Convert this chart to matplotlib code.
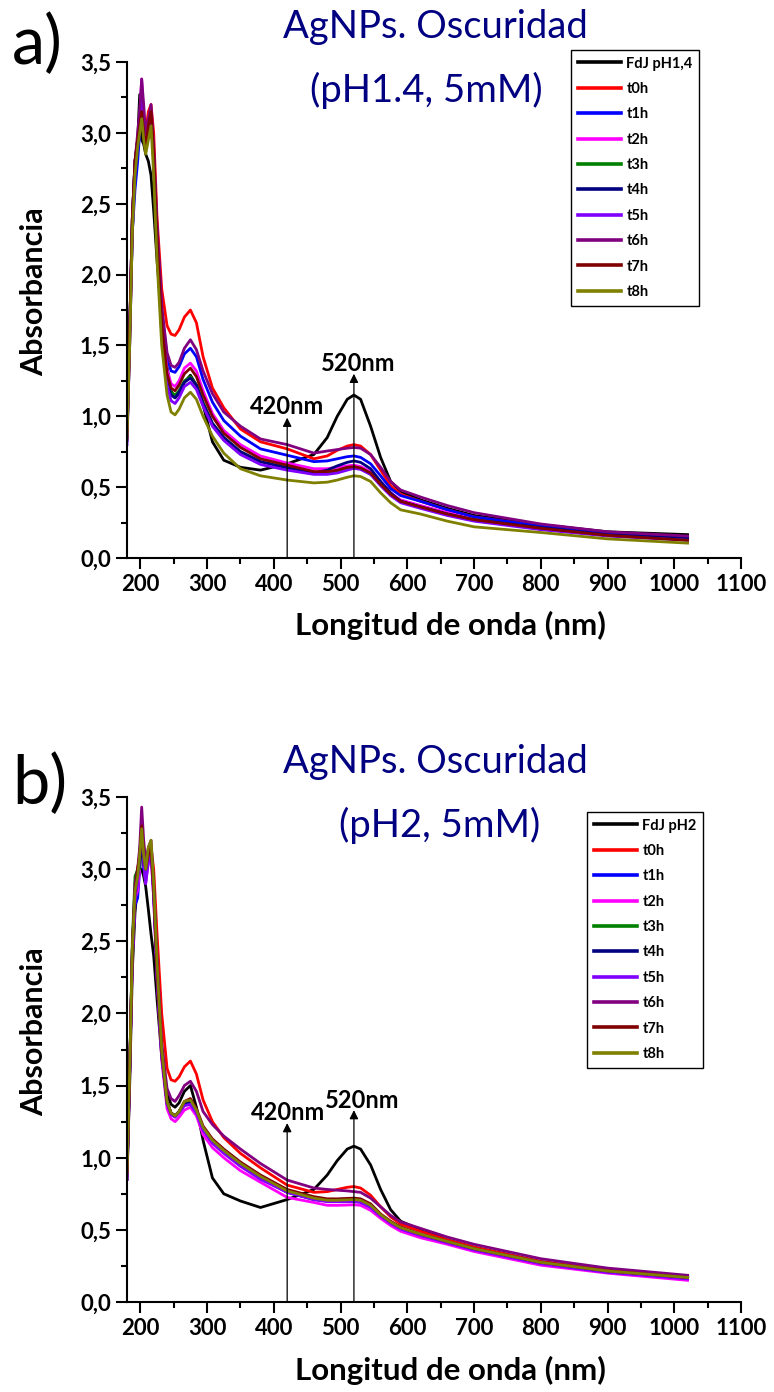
import matplotlib

matplotlib.use("Agg")
import matplotlib.pyplot as plt
from matplotlib.ticker import FuncFormatter, MultipleLocator

plt.rcParams["font.family"] = ["Lato", "DejaVu Sans"]

wavelength = [180, 184, 188, 192, 196, 199, 202, 205, 208, 212, 216, 220, 225, 232, 240,
              246, 252, 258, 266, 275, 284, 294, 308, 325, 350, 380, 420,
              460, 480, 495, 510, 520, 530, 545, 560, 575, 590, 620,
              660, 700, 800, 900, 1020]

labels_a = ["FdJ pH1,4", "t0h", "t1h", "t2h", "t3h", "t4h", "t5h", "t6h", "t7h", "t8h"]
labels_b = ["FdJ pH2", "t0h", "t1h", "t2h", "t3h", "t4h", "t5h", "t6h", "t7h", "t8h"]
colors = ["#000000", "#ff0000", "#0000ff", "#ff00ff", "#008000", "#000080",
          "#8000ff", "#800080", "#800000", "#808000"]

# panel a) pH 1.4
fdj_a = [0.83, 1.50, 2.30, 2.75, 2.95, 3.27, 2.95, 2.92, 2.85, 2.80, 2.70, 2.45, 2.10, 1.70, 1.35,
         1.18, 1.13, 1.16, 1.24, 1.29, 1.22, 1.08, 0.82, 0.69, 0.64, 0.62, 0.665,
         0.73, 0.85, 1.00, 1.12, 1.15, 1.12, 0.93, 0.71, 0.54, 0.47, 0.41,
         0.35, 0.30, 0.235, 0.185, 0.165]
t0_a = [0.85, 1.55, 2.35, 2.75, 2.90, 3.05, 3.20, 3.10, 3.00, 3.15, 3.20, 3.00, 2.40, 1.90, 1.64,
        1.58, 1.57, 1.61, 1.70, 1.75, 1.66, 1.42, 1.20, 1.06, 0.91, 0.82, 0.77,
        0.70, 0.72, 0.76, 0.79, 0.80, 0.79, 0.73, 0.62, 0.51, 0.45, 0.40,
        0.34, 0.29, 0.225, 0.17, 0.14]
t1_a = [1.20, 1.60, 2.30, 2.60, 2.80, 3.00, 3.15, 3.00, 2.95, 3.05, 3.10, 2.85, 2.30, 1.75, 1.42,
        1.32, 1.31, 1.35, 1.44, 1.48, 1.42, 1.26, 1.10, 0.97, 0.86, 0.77, 0.725,
        0.68, 0.685, 0.70, 0.715, 0.72, 0.71, 0.665, 0.58, 0.49, 0.44, 0.40,
        0.34, 0.29, 0.225, 0.175, 0.145]
t2_a = [0.90, 1.60, 2.40, 2.80, 2.95, 3.10, 3.38, 3.10, 2.90, 3.00, 3.10, 2.80, 2.25, 1.68, 1.33,
        1.23, 1.21, 1.25, 1.34, 1.375, 1.32, 1.18, 1.02, 0.90, 0.80, 0.72, 0.67,
        0.63, 0.63, 0.64, 0.65, 0.655, 0.645, 0.61, 0.54, 0.46, 0.41, 0.37,
        0.32, 0.27, 0.21, 0.16, 0.13]
t3_a = [0.85, 1.60, 2.40, 2.80, 2.95, 3.05, 3.20, 3.00, 2.90, 3.05, 3.10, 2.80, 2.20, 1.62, 1.27,
        1.17, 1.15, 1.18, 1.25, 1.28, 1.22, 1.10, 0.95, 0.85, 0.75, 0.68, 0.64,
        0.60, 0.60, 0.61, 0.63, 0.64, 0.63, 0.59, 0.52, 0.45, 0.40, 0.36,
        0.31, 0.27, 0.21, 0.16, 0.13]
t4_a = [0.90, 1.60, 2.40, 2.80, 2.95, 3.05, 3.15, 3.00, 2.90, 3.00, 3.10, 2.80, 2.20, 1.60, 1.25,
        1.15, 1.13, 1.17, 1.24, 1.27, 1.22, 1.09, 0.95, 0.85, 0.75, 0.68, 0.635,
        0.60, 0.62, 0.65, 0.675, 0.685, 0.675, 0.63, 0.54, 0.46, 0.40, 0.36,
        0.31, 0.27, 0.215, 0.165, 0.14]
t5_a = [0.80, 1.50, 2.30, 2.75, 2.95, 3.05, 3.30, 3.05, 2.90, 3.05, 3.10, 2.80, 2.20, 1.58, 1.22,
        1.11, 1.09, 1.13, 1.21, 1.24, 1.19, 1.07, 0.93, 0.83, 0.73, 0.66, 0.62,
        0.59, 0.59, 0.60, 0.62, 0.633, 0.625, 0.59, 0.51, 0.44, 0.39, 0.35,
        0.30, 0.26, 0.20, 0.155, 0.125]
t6_a = [0.85, 1.60, 2.40, 2.80, 3.00, 3.15, 3.38, 3.20, 3.00, 3.10, 3.20, 2.90, 2.35, 1.78, 1.45,
        1.36, 1.345, 1.38, 1.48, 1.54, 1.47, 1.32, 1.16, 1.03, 0.93, 0.84, 0.80,
        0.74, 0.755, 0.765, 0.775, 0.78, 0.775, 0.73, 0.64, 0.54, 0.48, 0.43,
        0.37, 0.32, 0.24, 0.185, 0.155]
t7_a = [0.90, 1.60, 2.40, 2.80, 2.95, 3.05, 3.15, 3.00, 2.90, 3.05, 3.15, 2.85, 2.25, 1.65, 1.30,
        1.20, 1.18, 1.22, 1.30, 1.34, 1.28, 1.15, 1.00, 0.88, 0.78, 0.70, 0.655,
        0.61, 0.61, 0.62, 0.64, 0.645, 0.635, 0.60, 0.52, 0.45, 0.40, 0.36,
        0.31, 0.27, 0.21, 0.16, 0.125]
t8_a = [0.85, 1.50, 2.30, 2.70, 2.90, 3.00, 3.10, 2.95, 2.85, 2.95, 3.05, 2.70, 2.10, 1.50, 1.15,
        1.03, 1.01, 1.05, 1.13, 1.17, 1.12, 1.00, 0.86, 0.74, 0.63, 0.58, 0.55,
        0.53, 0.535, 0.55, 0.57, 0.58, 0.575, 0.54, 0.46, 0.39, 0.34, 0.31,
        0.26, 0.22, 0.18, 0.135, 0.105]

# panel b) pH 2
fdj_b = [0.85, 1.50, 2.30, 2.70, 2.90, 3.00, 3.00, 2.95, 2.88, 2.72, 2.55, 2.40, 2.10, 1.70, 1.45,
         1.37, 1.35, 1.38, 1.46, 1.50, 1.35, 1.12, 0.86, 0.75, 0.70, 0.655, 0.71,
         0.78, 0.88, 0.98, 1.06, 1.08, 1.06, 0.95, 0.78, 0.64, 0.56, 0.50,
         0.43, 0.38, 0.28, 0.22, 0.18]
t0_b = [0.90, 1.60, 2.40, 2.80, 3.00, 3.10, 3.20, 3.10, 3.00, 3.10, 3.15, 3.00, 2.55, 2.00, 1.62,
        1.54, 1.53, 1.56, 1.63, 1.67, 1.58, 1.40, 1.25, 1.14, 1.03, 0.93, 0.81,
        0.76, 0.765, 0.78, 0.795, 0.80, 0.79, 0.74, 0.66, 0.59, 0.54, 0.49,
        0.43, 0.38, 0.28, 0.22, 0.17]
t1_b = [0.90, 1.60, 2.40, 2.75, 2.80, 3.00, 3.20, 3.00, 2.95, 3.05, 3.15, 2.85, 2.30, 1.72, 1.38,
        1.31, 1.29, 1.32, 1.37, 1.38, 1.32, 1.20, 1.11, 1.04, 0.95, 0.86, 0.765,
        0.715, 0.70, 0.70, 0.70, 0.70, 0.695, 0.66, 0.60, 0.55, 0.51, 0.465,
        0.415, 0.365, 0.27, 0.21, 0.165]
t2_b = [0.90, 1.60, 2.40, 2.80, 2.85, 3.00, 3.25, 3.05, 2.90, 3.05, 3.10, 2.80, 2.25, 1.68, 1.34,
        1.27, 1.25, 1.28, 1.33, 1.35, 1.29, 1.16, 1.07, 1.00, 0.91, 0.83, 0.725,
        0.69, 0.67, 0.67, 0.672, 0.674, 0.67, 0.635, 0.58, 0.53, 0.49, 0.445,
        0.40, 0.35, 0.255, 0.20, 0.15]
t3_b = [0.90, 1.60, 2.50, 2.95, 3.00, 3.00, 3.20, 3.05, 2.95, 3.10, 3.15, 2.85, 2.30, 1.72, 1.38,
        1.31, 1.29, 1.32, 1.38, 1.39, 1.32, 1.20, 1.11, 1.04, 0.95, 0.86, 0.765,
        0.715, 0.70, 0.70, 0.70, 0.70, 0.695, 0.66, 0.60, 0.55, 0.51, 0.465,
        0.415, 0.365, 0.27, 0.21, 0.165]
t4_b = [0.90, 1.60, 2.45, 2.85, 2.95, 3.05, 3.20, 3.05, 2.95, 3.10, 3.15, 2.85, 2.30, 1.72, 1.38,
        1.31, 1.29, 1.32, 1.38, 1.39, 1.32, 1.20, 1.11, 1.04, 0.95, 0.86, 0.76,
        0.71, 0.70, 0.70, 0.70, 0.70, 0.695, 0.66, 0.60, 0.55, 0.51, 0.465,
        0.415, 0.365, 0.27, 0.21, 0.165]
t5_b = [0.85, 1.55, 2.40, 2.80, 2.90, 3.10, 3.30, 3.05, 2.90, 3.05, 3.10, 2.80, 2.25, 1.70, 1.37,
        1.30, 1.28, 1.31, 1.36, 1.37, 1.31, 1.19, 1.10, 1.03, 0.94, 0.85, 0.76,
        0.71, 0.695, 0.695, 0.695, 0.695, 0.69, 0.655, 0.595, 0.545, 0.505, 0.46,
        0.41, 0.36, 0.265, 0.205, 0.16]
t6_b = [0.85, 1.60, 2.45, 2.90, 3.00, 3.15, 3.43, 3.20, 3.05, 3.15, 3.20, 2.90, 2.40, 1.80, 1.48,
        1.41, 1.39, 1.43, 1.50, 1.53, 1.46, 1.32, 1.23, 1.15, 1.06, 0.96, 0.845,
        0.79, 0.78, 0.775, 0.77, 0.765, 0.76, 0.72, 0.66, 0.60, 0.555, 0.51,
        0.45, 0.40, 0.30, 0.235, 0.185]
t7_b = [0.90, 1.60, 2.45, 2.85, 3.00, 3.10, 3.30, 3.10, 3.00, 3.10, 3.15, 2.85, 2.30, 1.74, 1.39,
        1.31, 1.29, 1.32, 1.39, 1.41, 1.34, 1.22, 1.13, 1.06, 0.97, 0.88, 0.78,
        0.73, 0.715, 0.715, 0.718, 0.72, 0.715, 0.68, 0.61, 0.56, 0.52, 0.47,
        0.42, 0.37, 0.275, 0.215, 0.17]
t8_b = [0.90, 1.60, 2.45, 2.85, 2.95, 3.10, 3.28, 3.10, 3.00, 3.15, 3.20, 2.90, 2.35, 1.75, 1.39,
        1.31, 1.29, 1.32, 1.39, 1.40, 1.33, 1.21, 1.12, 1.05, 0.96, 0.87, 0.77,
        0.72, 0.705, 0.705, 0.708, 0.71, 0.705, 0.67, 0.605, 0.555, 0.515, 0.47,
        0.42, 0.37, 0.275, 0.215, 0.17]

series_a = [fdj_a, t0_a, t1_a, t2_a, t3_a, t4_a, t5_a, t6_a, t7_a, t8_a]
series_b = [fdj_b, t0_b, t1_b, t2_b, t3_b, t4_b, t5_b, t6_b, t7_b, t8_b]

# arrow tips (nm, absorbance) and label centres
arrows_a = [(420, 0.99, 420, 1.07, "420nm"), (520, 1.30, 527, 1.37, "520nm")]
arrows_b = [(420, 1.24, 422, 1.31, "420nm"), (520, 1.33, 533, 1.40, "520nm")]

W, H = 774, 1392


def fx(px):
    return px / W


def fy(py):
    return 1 - py / H


def draw_panel(fig, rect, series, labels, arrows, legend_xy):
    ax = fig.add_axes(rect)
    for values, label, color in zip(series, labels, colors):
        ax.plot(wavelength, values, color=color, lw=2.0, label=label,
                solid_joinstyle="round")
    for x_tip, y_tip, x_txt, y_txt, text in arrows:
        ax.annotate("", xy=(x_tip, y_tip), xytext=(x_tip, 0),
                    arrowprops=dict(arrowstyle="-|>", color="black", lw=0.9,
                                    mutation_scale=13, shrinkA=0, shrinkB=0))
        ax.text(x_txt, y_txt, text, ha="center", va="center",
                fontsize=17, fontweight="bold")

    ax.set_xlim(180, 1100)
    ax.set_ylim(0, 3.5)
    ax.xaxis.set_major_locator(MultipleLocator(100))
    ax.xaxis.set_minor_locator(MultipleLocator(50))
    ax.yaxis.set_major_locator(MultipleLocator(0.5))
    ax.yaxis.set_minor_locator(MultipleLocator(0.25))
    ax.yaxis.set_major_formatter(FuncFormatter(lambda v, p: f"{v:.1f}".replace(".", ",")))
    for side in ("top", "right"):
        ax.spines[side].set_visible(False)
    for side in ("left", "bottom"):
        ax.spines[side].set_linewidth(1.5)
    ax.tick_params(which="major", direction="out", length=8, width=1.5, labelsize=16)
    ax.tick_params(which="minor", direction="out", length=4.5, width=1.5)
    for tick in ax.get_xticklabels() + ax.get_yticklabels():
        tick.set_fontweight("bold")

    ax.set_xlabel("Longitud de onda (nm)", fontsize=22.5, fontweight="bold")
    ax.set_ylabel("Absorbancia", fontsize=22, fontweight="bold")
    ax.xaxis.set_label_coords(0.526, -0.107)
    ax.yaxis.set_label_coords(-0.128, 0.536)

    leg = ax.legend(loc="upper left", bbox_to_anchor=legend_xy,
                    bbox_transform=fig.transFigure, borderaxespad=0,
                    prop={"weight": "bold", "size": 10.5}, handlelength=3.0,
                    handletextpad=0.35, labelspacing=0.78, borderpad=0.45,
                    fancybox=False, framealpha=1, edgecolor="black")
    leg.get_frame().set_linewidth(1.0)
    for line in leg.get_lines():
        line.set_linewidth(2.6)
    return ax


fig = plt.figure(figsize=(W / 100, H / 100), dpi=100, facecolor="white")

draw_panel(fig, [fx(127), fy(558), fx(741) - fx(127), fy(62) - fy(558)],
           series_a, labels_a, arrows_a, (fx(571), fy(50)))
draw_panel(fig, [fx(127), fy(1302), fx(741) - fx(127), fy(797) - fy(1302)],
           series_b, labels_b, arrows_b, (fx(587), fy(812)))

title_color = "#000080"
fig.text(fx(435), fy(27), "AgNPs. Oscuridad", ha="center", va="center",
         fontsize=27.5, color=title_color)
fig.text(fx(426), fy(90), "(pH1.4, 5mM)", ha="center", va="center",
         fontsize=27.5, color=title_color)
fig.text(fx(435), fy(762), "AgNPs. Oscuridad", ha="center", va="center",
         fontsize=27.5, color=title_color)
fig.text(fx(440), fy(825), "(pH2, 5mM)", ha="center", va="center",
         fontsize=27.5, color=title_color)
fig.text(fx(12), fy(45), "a)", ha="left", va="center", fontsize=48)
fig.text(fx(12), fy(785), "b)", ha="left", va="center", fontsize=48)

fig.savefig("out.png", dpi=100, facecolor="white")
